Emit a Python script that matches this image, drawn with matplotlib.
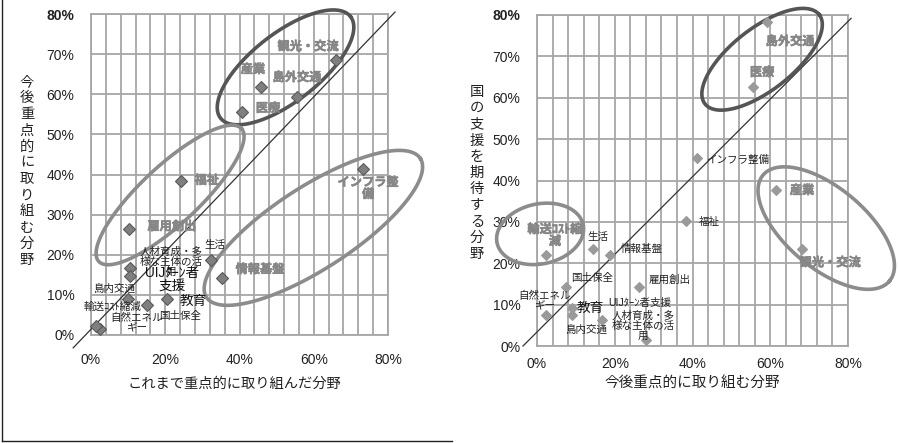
import numpy as np
import matplotlib
matplotlib.use("Agg")
import matplotlib.pyplot as plt
import matplotlib.patheffects as pe
from matplotlib.lines import Line2D

plt.rcParams['font.family'] = ['Liberation Sans', 'Noto Sans CJK JP', 'DejaVu Sans']

# --- left panel: past focus (x) vs. future focus (y)
left_names = ['観光・交流', '産業', '島外交通', '医療', '福祉', 'インフラ整備', '雇用創出', '生活',
              '情報基盤', '人材育成・多様な主体の活用', 'UIJﾀｰﾝ者支援', '島内交通', '輸送ｺｽﾄ縮減',
              '教育', '国土保全', '自然エネルギー']
left_x = [0.660, 0.458, 0.555, 0.407, 0.242, 0.733, 0.102, 0.323,
          0.353, 0.105, 0.105, 0.100, 0.151, 0.205, 0.024, 0.013]
left_y = [0.685, 0.618, 0.593, 0.556, 0.384, 0.414, 0.264, 0.187,
          0.142, 0.167, 0.147, 0.090, 0.075, 0.090, 0.015, 0.022]

# --- right panel: future focus (x) vs. expected national support (y)
right_names = ['島外交通', '医療', 'インフラ整備', '産業', '福祉', '観光・交流', '輸送ｺｽﾄ縮減', '生活',
               '情報基盤', '国土保全', '雇用創出', '自然エネルギー', '教育', '島内交通',
               'UIJﾀｰﾝ者支援', '人材育成・多様な主体の活用']
right_x = [0.592, 0.556, 0.412, 0.615, 0.383, 0.682, 0.023, 0.144,
           0.188, 0.075, 0.262, 0.023, 0.090, 0.090, 0.167, 0.280]
right_y = [0.783, 0.626, 0.454, 0.377, 0.302, 0.234, 0.220, 0.234,
           0.220, 0.143, 0.143, 0.075, 0.092, 0.075, 0.063, 0.015]

x_ticks = [0.0, 0.2, 0.4, 0.6, 0.8]
x_tick_labels = ['0%', '20%', '40%', '60%', '80%']
y_ticks = [0.0, 0.1, 0.2, 0.3, 0.4, 0.5, 0.6, 0.7, 0.8]
y_tick_labels = ['0%', '10%', '20%', '30%', '40%', '50%', '60%', '70%', '80%']

BOLD_GRAY = dict(color='#868686', fontweight='bold', fontsize=8.8,
                 path_effects=[pe.withStroke(linewidth=0.4, foreground='#868686')])
SMALL = dict(color='#222222', fontsize=7.6)
LARGE = dict(color='#111111', fontsize=9.8)

# label text, style, offset in pixels from the marker
left_labels = {
    '観光・交流': ('観光・交流', BOLD_GRAY, (-28, 13)),
    '産業': ('産業', BOLD_GRAY, (-8, 17)),
    '島外交通': ('島外交通', BOLD_GRAY, (0, 19)),
    '医療': ('医療', BOLD_GRAY, (26, 3)),
    '福祉': ('福祉', BOLD_GRAY, (26, 0)),
    'インフラ整備': ('インフラ整\n備', BOLD_GRAY, (5, -20)),
    '雇用創出': ('雇用創出', BOLD_GRAY, (43, 2)),
    '生活': ('生活', SMALL, (4, 15)),
    '情報基盤': ('情報基盤', BOLD_GRAY, (38, 8)),
    '人材育成・多様な主体の活用': ('人材育成・多\n様な主体の活\n用', SMALL, (41, 6)),
    'UIJﾀｰﾝ者支援': ('UIJﾀｰﾝ者\n支援', LARGE, (42, -4)),
    '島内交通': ('島内交通', SMALL, (-13, 10)),
    '輸送ｺｽﾄ縮減': ('輸送ｺｽﾄ縮減', SMALL, (-35, -2)),
    '教育': ('教育', LARGE, (26, -2)),
    '国土保全': ('国土保全', SMALL, (80, 13)),
    '自然エネルギー': ('自然エネル\nギー', SMALL, (41, 3)),
}
right_labels = {
    '島外交通': ('島外交通', BOLD_GRAY, (23, -20)),
    '医療': ('医療', BOLD_GRAY, (9, 14)),
    'インフラ整備': ('インフラ整備', SMALL, (40, -2)),
    '産業': ('産業', BOLD_GRAY, (26, -1)),
    '福祉': ('福祉', SMALL, (23, -1)),
    '観光・交流': ('観光・交流', BOLD_GRAY, (28, -14)),
    '輸送ｺｽﾄ縮減': ('輸送ｺｽﾄ縮\n減', BOLD_GRAY, (9, 19)),
    '生活': ('生活', SMALL, (5, 12)),
    '情報基盤': ('情報基盤', SMALL, (32, 6)),
    '国土保全': ('国土保全', SMALL, (26, 9)),
    '雇用創出': ('雇用創出', SMALL, (31, 7)),
    '自然エネルギー': ('自然エネル\nギー', SMALL, (-1, 14)),
    '教育': ('教育', LARGE, (18, 0)),
    '島内交通': ('島内交通', SMALL, (15, -15)),
    'UIJﾀｰﾝ者支援': ('UIJﾀｰﾝ者支援', SMALL, (38, 17)),
    '人材育成・多様な主体の活用': ('人材育成・多\n様な主体の活\n用', SMALL, (-3, 14)),
}

# ellipses: centre (data), width/height (pixels), angle, colour
left_ellipses = [((0.524, 0.667), 165, 68, 38, '#555555'),
                 ((0.213, 0.349), 195, 58, 43, '#8c8c8c'),
                 ((0.599, 0.267), 255, 82, 33, '#8c8c8c')]
right_ellipses = [((0.579, 0.693), 145, 62, 38, '#555555'),
                  ((0.744, 0.285), 165, 80, -40, '#8c8c8c'),
                  ((0.008, 0.271), 88, 60, 12, '#8c8c8c')]

left_diag = ([-0.048, 0.819], [-0.032, 0.805])
right_diag = ([-0.036, 0.808], [0.0, 0.792])


def draw_ellipse(ax, center, w, h, angle, color):
    cx, cy = ax.transData.transform(center)
    t = np.linspace(0, 2 * np.pi, 200)
    a = np.deg2rad(angle)
    ex = w / 2 * np.cos(t)
    ey = h / 2 * np.sin(t)
    px = cx + ex * np.cos(a) - ey * np.sin(a)
    py = cy + ex * np.sin(a) + ey * np.cos(a)
    pts = ax.transData.inverted().transform(np.column_stack([px, py]))
    ax.plot(pts[:, 0], pts[:, 1], color=color, lw=2.6, clip_on=False, zorder=4)


def setup_axes(ax, xpad):
    ax.set_xlim(0, 0.8)
    ax.set_ylim(0, 0.8)
    ax.set_xticks(x_ticks, x_tick_labels)
    ax.set_xticks(np.arange(0, 0.801, 0.04), minor=True)
    ax.set_yticks(y_ticks, y_tick_labels)
    ax.grid(which='both', axis='x', color='#a6a6a6', lw=1.3)
    ax.grid(which='major', axis='y', color='#a6a6a6', lw=1.3)
    ax.set_axisbelow(True)
    for s in ax.spines.values():
        s.set_color('#a6a6a6')
        s.set_linewidth(1.3)
    ax.tick_params(which='both', length=0, labelsize=10, colors='#222222')
    ax.tick_params(axis='y', pad=12)
    ax.tick_params(axis='x', pad=xpad)
    ax.get_yticklabels()[-1].set_fontweight('bold')


def draw_panel(ax, xs, ys, names, labels, ellipses, diag, msize, mcolor, ecolor, xpad):
    setup_axes(ax, xpad)
    ax.plot(diag[0], diag[1], color='#333333', lw=0.9, clip_on=False, zorder=3)
    ax.plot(xs, ys, 'D', ms=msize, color=mcolor, mec=ecolor, mew=0.8,
            clip_on=False, zorder=5)
    for x, y, n in zip(xs, ys, names):
        text, style, off = labels[n]
        ax.annotate(text, (x, y), xytext=off, textcoords='offset pixels',
                    ha='center', va='center', linespacing=1.0, zorder=6,
                    family=['Liberation Sans', 'Noto Sans CJK JP'], **style)
    for c, w, h, ang, col in ellipses:
        draw_ellipse(ax, c, w, h, ang, col)


fig = plt.figure(figsize=(8.98, 4.43), dpi=100)
ax1 = fig.add_axes([91 / 898, 1 - 335 / 443, 297 / 898, 321 / 443])
ax2 = fig.add_axes([537 / 898, 1 - 346 / 443, 311 / 898, 331 / 443])

draw_panel(ax1, left_x, left_y, left_names, left_labels, left_ellipses,
           left_diag, 6.5, '#7f7f7f', '#595959', 13)
draw_panel(ax2, right_x, right_y, right_names, right_labels, right_ellipses,
           right_diag, 5.0, '#9a9a9a', '#9a9a9a', 8)

# axis titles, vertical ones stacked character by character
fig.text(234 / 898, 1 - 384 / 443, 'これまで重点的に取り組んだ分野', ha='center', va='center',
         fontsize=10.3, family='Noto Sans CJK JP', color='#222222')
fig.text(692 / 898, 1 - 384 / 443, '今後重点的に取り組む分野', ha='center', va='center',
         fontsize=10.5, family='Noto Sans CJK JP', color='#222222')
fig.text(27 / 898, 1 - 171 / 443, '\n'.join('今後重点的に取り組む分野'), ha='center', va='center',
         fontsize=10.3, family='Noto Sans CJK JP', color='#222222', linespacing=1.2)
fig.text(477 / 898, 1 - 173 / 443, '\n'.join('国の支援を期待する分野'), ha='center', va='center',
         fontsize=10.3, family='Noto Sans CJK JP', color='#222222', linespacing=1.2)

# frame around the left chart
fig.add_artist(Line2D([2 / 898, 2 / 898], [1 - 441 / 443, 1.0], color='#222222', lw=1.0))
fig.add_artist(Line2D([2 / 898, 452 / 898], [1 - 441 / 443, 1 - 441 / 443], color='#222222', lw=1.0))

fig.savefig('out.png', dpi=100)
